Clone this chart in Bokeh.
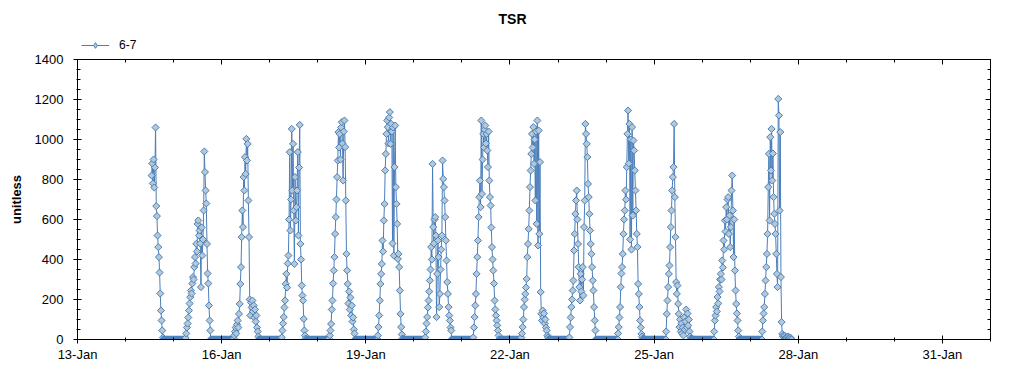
import datetime as dt
import math
from bokeh.plotting import figure
from bokeh.layouts import column
from bokeh.models import (Range1d, LinearAxis, DatetimeAxis, FixedTicker,
                          SingleIntervalTicker, DatetimeTickFormatter, Legend,
                          LegendItem, ColumnDataSource, Label)
from bokeh.embed import file_html
from bokeh.resources import INLINE

# ---------------- data (20-minute steps) ----------------
STEP_MIN = 20
NIGHT_STEP_MIN = 10
series_name = "6-7"
title_text = "TSR"
y_label = "unitless"

# daytime segments: (start time, values at 20-min steps); night values read as 0
d14_start = "2024-01-14 13:00"
d14 = [820, 880, 780, 900, 760, 860, 1060, 667, 617, 520, 462, 412, 335, 230, 145, 95, 45, 10]
d15_start = "2024-01-15 06:00"
d15 = [8, 30, 60, 80, 110, 145, 180, 212, 245, 230, 280, 312, 300, 362, 412, 380, 478, 440, 578, 595,
       520, 545, 480, 262, 560, 420, 500, 645, 940, 837, 745, 680, 478, 330, 280, 170, 95, 45]
d16_start = "2024-01-16 06:00"
d16 = [5, 20, 40, 60, 30, 75, 95, 60, 128, 178, 278, 362, 512, 645, 562, 812, 745, 912, 828, 1003,
       895, 978, 695, 512, 200, 120, 185, 160, 195, 140, 170, 110, 150, 90, 120, 60, 40, 15]
d17_start = "2024-01-17 06:00"
d17 = [10, 45, 80, 112, 160, 195, 278, 328, 260, 380, 420, 600, 937, 545, 700, 1053, 745, 978, 645, 378,
       812, 595, 662, 745, 937, 520, 860, 1073, 478, 400, 270, 220, 195, 103, 45, 20, 5, 0]
d18_start = "2024-01-18 05:40"
d18 = [5, 20, 45, 78, 150, 195, 280, 345, 412, 528, 612, 700, 812, 895, 1037, 960, 1028, 900, 1060, 1087,
       980, 795, 1040, 1095, 962, 695, 428, 345, 278, 180, 240, 150, 210, 120, 170, 90, 110, 50, 30]
d19_start = "2024-01-19 06:00"
d19 = [20, 62, 120, 195, 278, 328, 378, 495, 440, 595, 678, 845, 928, 1028, 1095, 1062, 980, 1110, 1137, 978,
       1078, 1040, 480, 1060, 420, 862, 1070, 762, 678, 578, 403, 428, 362, 245, 128, 62, 25, 5]
d20_start = "2024-01-20 05:40"
d20 = [10, 40, 80, 112, 160, 195, 240, 295, 350, 462, 400, 878, 562, 480, 600, 612, 520, 112, 328, 495,
       412, 162, 228, 350, 450, 520, 895, 803, 762, 695, 612, 495, 395, 287, 228, 162, 120, 95, 60, 45]
d21_start = "2024-01-21 05:40"
d21 = [10, 60, 112, 170, 228, 328, 412, 495, 612, 712, 795, 662, 1095, 728, 900, 1028, 960, 1050, 1070, 980,
       1028, 945, 862, 1040, 795, 712, 670, 560, 462, 400, 345, 280, 195, 150, 120, 95, 70, 45, 20]
d22_start = "2024-01-22 05:40"
d22 = [10, 30, 62, 100, 162, 200, 228, 260, 303, 412, 478, 553, 645, 762, 845, 928, 1028, 960, 1062, 878,
       1000, 695, 1040, 578, 1095, 470, 1045, 528, 887, 237, 128, 95, 145, 110, 130, 80, 100, 60, 45, 20, 10]
d23_start = "2024-01-23 05:40"
d23 = [10, 62, 110, 162, 200, 245, 295, 445, 528, 628, 695, 745, 600, 478, 362, 262, 195, 328, 240, 300,
       362, 220, 562, 695, 1078, 1028, 978, 912, 778, 712, 628, 545, 478, 428, 362, 295, 245, 162, 95, 45]
d24_start = "2024-01-24 06:00"
d24 = [30, 62, 110, 162, 262, 330, 362, 428, 528, 600, 645, 745, 700, 862, 1028, 1145, 880, 1078, 500, 1000,
       450, 1062, 620, 995, 945, 845, 745, 645, 528, 462, 278, 228, 162, 95, 60, 28, 15, 5]
d25_start = "2024-01-25 06:00"
d25 = [40, 128, 195, 262, 328, 370, 462, 562, 645, 745, 812, 862, 1078, 712, 512, 287, 228, 270, 178, 128,
       62, 100, 40, 80, 30, 60, 20, 110, 50, 90, 150, 60, 130, 70, 100, 40, 15, 5]
d26_start = "2024-01-26 06:00"
d26 = [40, 95, 120, 162, 140, 212, 180, 262, 240, 300, 328, 300, 395, 360, 495, 450, 595, 540, 662, 600,
       700, 712, 528, 620, 462, 562, 745, 820, 645, 412, 600, 345, 245, 178, 130, 95, 45, 15]
d27_start = "2024-01-27 06:00"
d27 = [40, 95, 130, 162, 228, 295, 362, 428, 528, 762, 928, 595, 1012, 845, 1053, 795, 930, 712, 628, 578,
       528, 428, 328, 262, 1203, 1120, 645, 1037, 312, 87, 28, 15, 20, 10, 18, 8, 12, 5, 10, 15,
       8, 5, 10, 3, 0]
NIGHT_VALUE = 0

segments = [(d14_start, d14), (d15_start, d15), (d16_start, d16), (d17_start, d17), (d18_start, d18),
            (d19_start, d19), (d20_start, d20), (d21_start, d21), (d22_start, d22), (d23_start, d23),
            (d24_start, d24), (d25_start, d25), (d26_start, d26), (d27_start, d27)]

x_start = dt.datetime(2024, 1, 13)
x_end = dt.datetime(2024, 2, 1)
major_days = [13, 16, 19, 22, 25, 28, 31]

# ---------------- build series ----------------
step = dt.timedelta(minutes=STEP_MIN)
night_step = dt.timedelta(minutes=NIGHT_STEP_MIN)
xs, ys = [], []
prev_end = None
for start_s, vals in segments:
    start = dt.datetime.strptime(start_s, "%Y-%m-%d %H:%M")
    if prev_end is not None:
        t = prev_end + night_step
        while t < start:
            xs.append(t)
            ys.append(NIGHT_VALUE)
            t += night_step
    for i, v in enumerate(vals):
        xs.append(start + i * step)
        ys.append(v)
    prev_end = start + (len(vals) - 1) * step

src = ColumnDataSource(data=dict(x=xs, y=ys))

def ms(d):
    return (d - dt.datetime(1970, 1, 1)).total_seconds() * 1000.0

major_ticks = [ms(dt.datetime(2024, 1, d)) for d in major_days]
minor_ticks = [ms(x_start + dt.timedelta(days=i)) for i in range(0, 20)]

FONT = "Liberation Sans"
LINE_COLOR = "#4a7ebb"
FILL_COLOR = "#b4c9d6"
TEXT_COLOR = "black"
TOP_H = 53

# ---------------- header figure: title + legend ----------------
head = figure(frame_width=1008, frame_height=TOP_H, x_range=Range1d(0, 1), y_range=Range1d(0, 1),
              x_axis_location=None, y_axis_location=None, output_backend="svg",
              toolbar_location=None, min_border=0, min_border_left=0, min_border_right=0,
              min_border_top=0, min_border_bottom=0)
head.outline_line_color = None
head.grid.visible = False
head.background_fill_color = "white"
head.border_fill_color = "white"
# legend-only renderers (no visible data point)
legend_src = ColumnDataSource(data=dict(x=[float("nan")], y=[float("nan")]))
hl = head.line("x", "y", source=legend_src, line_color=LINE_COLOR, line_width=1)
hs = head.scatter("x", "y", source=legend_src, marker="diamond", size=9,
                  fill_color=FILL_COLOR, line_color=LINE_COLOR, line_width=1)
legend = Legend(items=[LegendItem(label=series_name, renderers=[hl, hs])],
                location=(81, 1), orientation="horizontal", padding=0, margin=0, spacing=0,
                border_line_color=None, background_fill_alpha=0,
                glyph_width=28, glyph_height=14, label_height=14, label_standoff=10,
                label_text_font=FONT, label_text_font_size="12px", label_text_color=TEXT_COLOR)
head.add_layout(legend)
head.add_layout(Label(x=435, y=TOP_H - 18, x_units="screen", y_units="screen", text=title_text,
                      text_align="center", text_baseline="middle", text_font=FONT,
                      text_font_size="14px", text_font_style="bold", text_color=TEXT_COLOR))

# ---------------- main figure ----------------
p = figure(x_axis_type="datetime", frame_width=913, frame_height=280,
           x_range=Range1d(x_start, x_end), y_range=Range1d(0, 1400),
           output_backend="svg", toolbar_location=None,
           min_border_left=77, min_border_right=18, min_border_top=59 - TOP_H, min_border_bottom=30)

p.background_fill_color = "white"
p.border_fill_color = "white"
p.outline_line_color = "black"
p.xgrid.visible = False
p.ygrid.visible = False

xticker = FixedTicker(ticks=major_ticks, minor_ticks=minor_ticks)
fmt = DatetimeTickFormatter(days="%d-%b", months="%d-%b", hours="%d-%b", years="%d-%b")
yticker = SingleIntervalTicker(interval=200, num_minor_ticks=4)

xa = p.xaxis[0]
xa.ticker = xticker
xa.formatter = fmt
xa.major_label_text_font = FONT
xa.major_label_text_font_size = "13px"
xa.major_label_text_color = TEXT_COLOR
xa.major_label_standoff = 3
xa.major_tick_in = 4
xa.major_tick_out = 4
xa.minor_tick_in = 2
xa.minor_tick_out = 2
xa.axis_line_color = "black"
xa.major_tick_line_color = "black"
xa.minor_tick_line_color = "black"

ya = p.yaxis[0]
ya.ticker = yticker
ya.major_label_text_font = FONT
ya.major_label_text_font_size = "13px"
ya.major_label_text_color = TEXT_COLOR
ya.major_label_standoff = 10
ya.major_tick_in = 4
ya.major_tick_out = 4
ya.minor_tick_in = 3
ya.minor_tick_out = 1
ya.axis_line_color = "black"
ya.major_tick_line_color = "black"
ya.minor_tick_line_color = "black"
ya.axis_label = y_label
ya.axis_label_text_font = FONT
ya.axis_label_text_font_size = "13px"
ya.axis_label_text_font_style = "bold"
ya.axis_label_text_color = TEXT_COLOR
ya.axis_label_standoff = 8

top_axis = DatetimeAxis(ticker=xticker, formatter=fmt, major_label_text_font_size="0px",
                        major_label_standoff=0, major_tick_in=5, major_tick_out=0,
                        minor_tick_in=3, minor_tick_out=0)
p.add_layout(top_axis, "above")
right_axis = LinearAxis(ticker=yticker, major_label_text_font_size="0px",
                        major_label_standoff=0, major_tick_in=5, major_tick_out=0,
                        minor_tick_in=3, minor_tick_out=0)
p.add_layout(right_axis, "right")

line_r = p.line("x", "y", source=src, line_color=LINE_COLOR, line_width=1)
sc_r = p.scatter("x", "y", source=src, marker="square", angle=math.pi / 4, size=5,
                 fill_color=FILL_COLOR, line_color=LINE_COLOR, line_width=1)

layout = column(head, p, spacing=0)
open("out.html", "w").write(file_html(layout, INLINE))
